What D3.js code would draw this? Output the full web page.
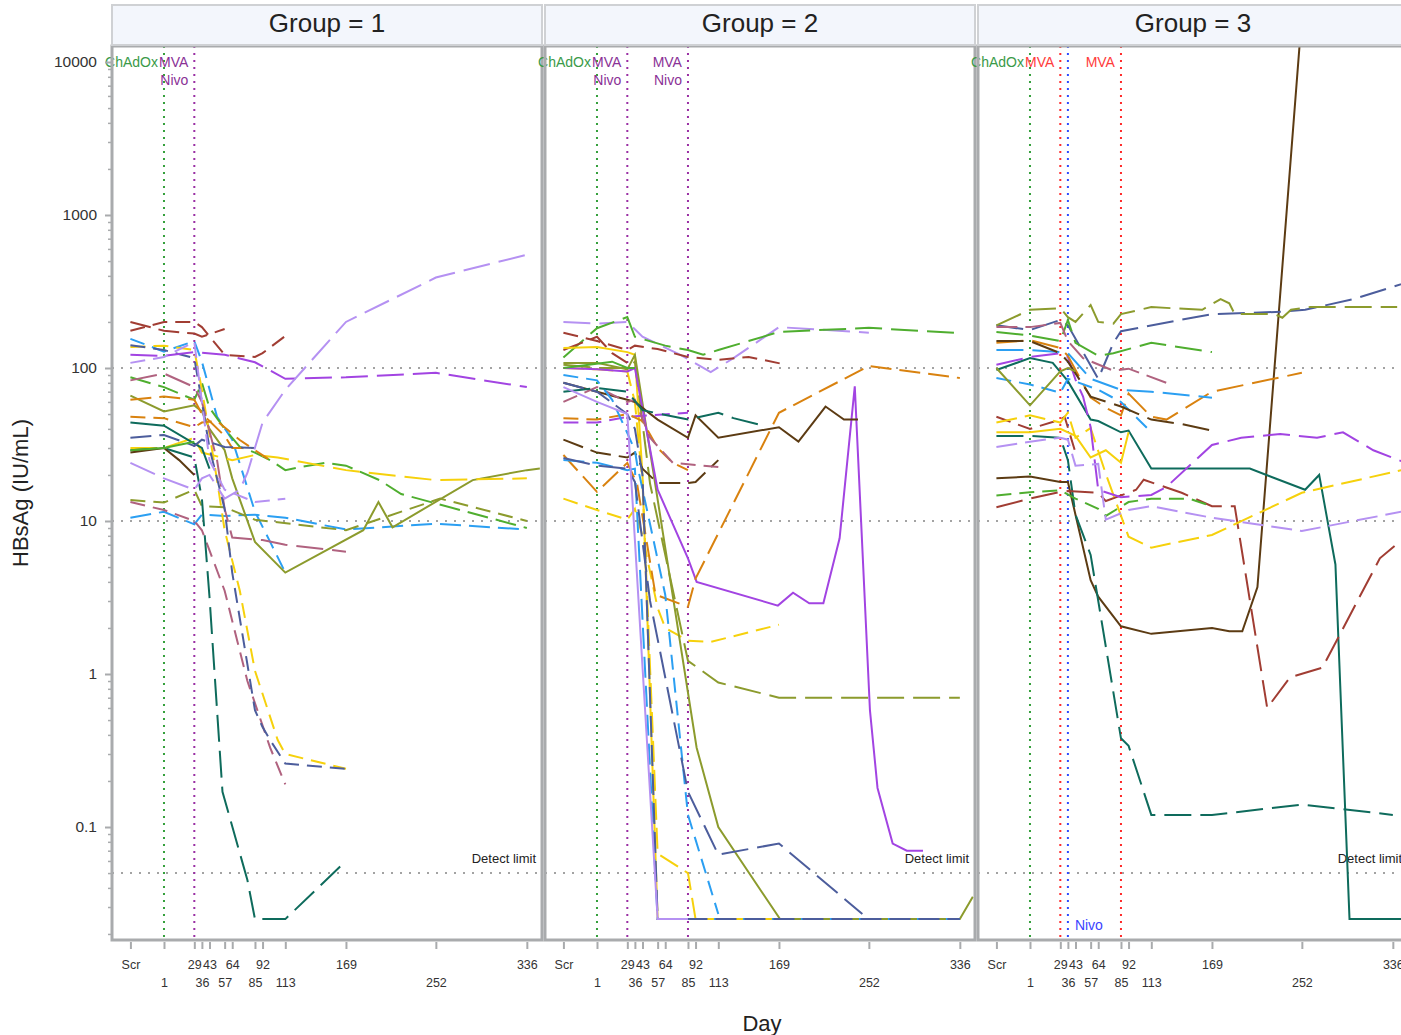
<!DOCTYPE html>
<html>
<head>
<meta charset="utf-8">
<script src="https://cdn.jsdelivr.net/npm/d3@7"></script>
<style>
  body { margin: 0; background: #fff; }
  text { font-family: "Liberation Sans", Arial, sans-serif; }
</style>
</head>
<body>
<svg id="chart"></svg>
<script>
// ---- data ----
const groups = ["Group = 1", "Group = 2", "Group = 3"];
const tickDays = [-30, 1, 29, 36, 43, 57, 64, 85, 92, 113, 169, 252, 336];
const tickLabels = ["Scr", "1", "29", "36", "43", "57", "64", "85", "92", "113", "169", "252", "336"];
const yTicks = [0.1, 1, 10, 100, 1000, 10000];
const refLevels = [100, 10, 0.05];

// [day, HBsAg IU/mL] per participant, Scr plotted at day -30
const group1 = [
  { id: "101", pts: [[-30,200],[1,175],[29,168],[36,160],[57,180]] },
  { id: "102", pts: [[-30,175],[1,200],[29,200],[36,185],[50,140],[57,122],[85,118],[92,125],[113,162]] },
  { id: "103", pts: [[-30,155],[1,128],[29,150],[36,110],[50,48],[64,34],[85,11.5],[99,7.3],[113,4.6]] },
  { id: "104", pts: [[-30,10.5],[1,11.5],[29,9.5],[36,11],[57,10.8],[85,11],[113,10.5],[169,8.8],[252,9.6],[336,8.8]] },
  { id: "105", pts: [[-30,66],[1,52],[29,57],[36,52],[43,40],[57,29],[64,19],[85,7.3],[113,4.6],[185,8.7],[199,13.3],[212,9.1],[286,18.5],[336,21.5],[348,22]] },
  { id: "106", pts: [[-30,13.7],[1,13.2],[29,16],[36,12.5],[57,12.3],[85,10.2],[169,8.7],[256,14],[336,10]] },
  { id: "107", pts: [[-30,87],[1,75],[29,62],[36,80],[43,55],[57,40],[71,30.5],[85,28],[99,25],[113,21.5],[127,22.5],[150,24],[169,23],[200,18.5],[220,15],[336,9]] },
  { id: "108", pts: [[-30,137],[1,140],[29,131],[36,72],[43,37],[50,18.5],[57,8.7],[71,3.5],[85,1.05],[106,0.37],[113,0.3],[169,0.24]] },
  { id: "109", pts: [[-30,30],[1,30],[29,35],[36,28],[64,25],[85,27],[106,26],[169,21.5],[252,18.5],[336,19]] },
  { id: "110", pts: [[-30,13.3],[1,11.8],[29,10],[36,8.7],[57,3.5],[78,0.9],[99,0.33],[113,0.19]] },
  { id: "111", pts: [[-30,83],[1,92],[29,75],[36,60],[50,25],[57,12],[64,7.8],[92,7.5],[113,7],[169,6.3]] },
  { id: "112", pts: [[-30,62],[1,65],[29,62],[36,50],[43,45],[57,36],[64,30],[85,30]] },
  { id: "113", pts: [[-30,48],[1,47],[29,41],[36,44],[50,45],[71,33.8],[85,29],[99,25]] },
  { id: "114", pts: [[-30,29],[1,30],[29,26],[36,14],[43,3.2],[55,0.17],[78,0.045],[85,0.025],[113,0.025],[169,0.06]] },
  { id: "115", pts: [[-30,44],[1,42],[29,32],[36,30],[43,22]] },
  { id: "116", pts: [[-30,35],[1,36.5],[29,31],[36,34],[57,30.5],[85,30]] },
  { id: "117", pts: [[-30,141],[1,131],[29,116],[36,60],[43,30],[57,12],[64,4.6],[85,0.58],[92,0.45],[99,0.37],[113,0.26],[169,0.24]] },
  { id: "118", pts: [[-30,122],[1,120],[29,127],[57,122],[85,109],[113,85],[169,87],[252,93],[336,75]] },
  { id: "119", pts: [[-30,24],[1,19],[29,16],[36,19],[43,20],[57,14],[71,16],[78,20.6],[92,44],[113,72],[169,200],[252,390],[336,550]] },
  { id: "120", pts: [[-30,108],[1,118],[29,148],[36,60],[43,25],[57,16],[85,13.3],[113,14]] },
  { id: "121", pts: [[-30,28],[1,30],[15,25],[29,20]] },
  { id: "122", pts: [[-30,29],[1,30],[29,33]] }
];

const group2 = [
  { id: "201", pts: [[-30,200],[1,195],[29,200],[43,160],[78,122],[106,94],[127,116],[169,185],[252,170]] },
  { id: "202", pts: [[-30,117],[1,182],[29,215],[36,160],[64,140],[85,131],[99,122],[113,131],[169,172],[252,183],[336,169]] },
  { id: "203", pts: [[-30,170],[1,150],[29,131],[36,140],[57,133],[85,118],[113,113],[141,118],[176,105]] },
  { id: "204", pts: [[-30,131],[1,160],[15,125],[29,108]] },
  { id: "205", pts: [[-30,135],[1,137],[29,127],[36,122],[43,20],[57,0.025],[336,0.025]] },
  { id: "206", pts: [[-30,14],[1,11.8],[29,10.2],[36,12],[43,8],[57,2.7],[64,2.0],[85,1.65],[106,1.62],[169,2.1]] },
  { id: "207", pts: [[-30,100],[1,98],[29,95],[36,60],[43,18],[57,0.067],[85,0.05],[92,0.025],[169,0.025]] },
  { id: "208", pts: [[-30,108],[1,108],[29,98],[36,122],[93,0.33],[113,0.1],[170,0.025],[336,0.025],[348,0.035]] },
  { id: "209", pts: [[-30,105],[1,100],[29,100],[36,110],[50,17.5],[85,1.22],[113,0.88],[169,0.7],[336,0.7]] },
  { id: "210", pts: [[-30,100],[1,98],[29,95],[36,100],[57,16],[85,5.7],[93,4.0],[168,2.8],[182,3.4],[197,2.9],[210,2.9],[225,7.7],[239,76],[253,0.58],[260,0.18],[274,0.078],[287,0.07],[302,0.07]] },
  { id: "211", pts: [[-30,44],[1,44],[29,48],[50,49],[85,51]] },
  { id: "212", pts: [[-30,27],[1,15.5],[29,24],[38,17.5],[55,3.3],[85,2.75],[92,4.2],[169,51],[252,103],[336,86]] },
  { id: "213", pts: [[-30,47],[1,46],[29,50],[43,45],[57,30],[71,24],[85,21.5]] },
  { id: "214", pts: [[-30,80],[1,70],[29,62],[36,60],[57,46],[85,35],[92,49],[113,35],[169,41],[187,33],[212,56],[229,46],[242,46]] },
  { id: "215", pts: [[-30,34],[1,28],[29,26],[36,28],[43,22],[57,17.7],[85,17.7],[92,18],[113,25]] },
  { id: "216", pts: [[-30,60],[1,75],[29,60],[36,62],[50,35],[71,24],[113,22.5]] },
  { id: "217", pts: [[-30,70],[1,74],[29,70],[43,53],[85,46],[113,51],[127,47],[155,42]] },
  { id: "218", pts: [[-30,90],[1,83],[15,62],[29,37.5],[36,29],[38,23.6],[64,3.3],[85,0.12],[113,0.027]] },
  { id: "219", pts: [[-30,25],[1,24],[29,21.5],[36,22],[57,0.025],[336,0.025]] },
  { id: "220", pts: [[-30,80],[1,70],[29,50],[36,40],[43,20],[57,0.025],[336,0.025]] },
  { id: "221", pts: [[-30,25.8],[1,23],[29,22],[36,18],[50,3],[85,0.17],[113,0.066],[169,0.078],[246,0.027]] },
  { id: "222", pts: [[-30,75],[1,60],[29,50],[57,0.025],[85,0.025]] },
  { id: "223", pts: [[-30,100],[15,110],[29,100],[36,100]] }
];

const group3 = [
  { id: "301", pts: [[-30,19],[1,19.5],[29,18],[36,18],[43,11],[57,4.1],[64,3.2],[85,2.05],[113,1.83],[169,2.0],[185,1.9],[197,1.9],[211,3.7],[252,20000]] },
  { id: "302", pts: [[-30,97],[1,116],[22,108],[36,82],[57,46],[64,45],[85,38],[92,39],[113,22],[204,22],[255,16],[268,20],[283,5.2],[296,0.025],[344,0.025]] },
  { id: "303", pts: [[-30,36],[1,36],[29,35],[36,25],[43,11],[57,6],[85,0.38],[92,0.34],[113,0.12],[169,0.12],[252,0.14],[336,0.12]] },
  { id: "304", pts: [[-30,12.3],[1,14],[29,15.5],[36,15.7],[64,15.3],[71,13.5],[99,16],[106,18.6],[141,15.3],[169,12.5],[190,12.5],[220,0.6],[241,0.95],[271,1.1],[324,5.7],[342,7.3]] },
  { id: "305", pts: [[-30,48],[1,40],[29,46],[33,48],[43,28]] },
  { id: "306", pts: [[-30,190],[1,177],[29,206],[36,190],[50,127],[64,85],[78,146],[85,174],[120,194],[169,225],[233,233],[255,240],[300,282],[350,365]] },
  { id: "307", pts: [[-30,190],[1,240],[29,246],[36,215],[43,200],[57,258],[64,200],[78,195],[85,225],[113,250],[160,240],[177,282],[185,265],[190,225],[227,225],[234,213],[242,240],[260,250],[340,250]] },
  { id: "308", pts: [[-30,172],[1,163],[29,150],[36,206],[43,146],[64,120],[78,125],[113,146],[169,127]] },
  { id: "309", pts: [[-30,14.7],[1,15.4],[29,15.9],[43,14],[64,12],[71,10.8],[92,13.3],[113,14],[148,14],[169,12.5]] },
  { id: "310", pts: [[-30,44],[1,49],[29,44],[36,51],[43,35],[57,40.5],[71,20.3],[92,7.9],[113,6.7],[169,8.1],[252,15.3],[344,21.5]] },
  { id: "311", pts: [[-30,38],[1,38],[29,40],[43,36],[57,26],[71,29],[85,24],[92,38]] },
  { id: "312", pts: [[-30,105],[1,118],[29,125],[36,118],[43,84],[50,65],[57,41],[64,16],[85,14.3],[113,14.8],[127,16.7],[169,31.4],[196,35],[232,37],[266,35],[290,38],[318,29],[344,24.6]] },
  { id: "313", pts: [[-30,30.5],[1,33],[29,35],[36,34],[43,23],[64,23.6],[71,10.2],[92,11.8],[113,12.5],[169,10.5],[252,8.6],[344,11.5]] },
  { id: "314", pts: [[-30,146],[1,152],[29,135],[36,120],[57,64],[71,55],[85,49],[92,68],[113,48],[127,46],[169,70],[252,93]] },
  { id: "315", pts: [[-30,131],[1,131],[29,127],[36,125],[57,85],[85,72],[113,70],[169,64]] },
  { id: "316", pts: [[-30,86],[1,78],[29,69],[36,85],[64,72],[85,60],[113,38]] },
  { id: "317", pts: [[-30,185],[1,185],[29,197],[36,150],[50,116],[78,96],[92,99],[127,80]] },
  { id: "318", pts: [[-30,150],[1,150],[29,125],[36,110],[57,65],[85,56],[113,46],[141,43],[169,39]] },
  { id: "319", pts: [[-30,100],[1,57],[29,95],[36,100],[43,95]] }
];

// dose markers: [day, colour key]
const doseLines = [
  [[1, "green"], [29, "purple"]],
  [[1, "green"], [29, "purple"], [85, "purple"]],
  [[1, "green"], [29, "red"], [36, "blue"], [85, "red"]]
];
// [day, text, colour key, row]
const doseLabels = [
  [[1, "ChAdOx", "green", "top"], [29, "MVA", "purple", "top"], [29, "Nivo", "purple", "second"]],
  [[1, "ChAdOx", "green", "top"], [29, "MVA", "purple", "top"], [29, "Nivo", "purple", "second"],
   [85, "MVA", "purple", "top"], [85, "Nivo", "purple", "second"]],
  [[1, "ChAdOx", "green", "top"], [29, "MVA", "red", "top"], [85, "MVA", "red", "top"], [36, "Nivo", "blue", "bottom"]]
];

// ---- styles ----
const palette = {
  darkred: "#a13d33", blue: "#2b9ff2", slate: "#4c5d9c", yellow: "#f6d10c",
  purple: "#a244e2", lavender: "#b591f2", mauve: "#b0627f", green: "#4fae2f",
  olive: "#8c9b2d", orange: "#d9820f", teal: "#0e6b5c", brown: "#5c3b13"
};
const dashes = { solid: null, a: "15,8", b: "21,8", c: "11,7", d: "27,9" };
const subjectStyle = {
  "101": ["darkred","b"], "102": ["darkred","a"], "103": ["blue","a"], "104": ["blue","b"],
  "105": ["olive","solid"], "106": ["olive","a"], "107": ["green","b"], "108": ["yellow","a"],
  "109": ["yellow","d"], "110": ["mauve","a"], "111": ["mauve","d"], "112": ["orange","b"],
  "113": ["orange","a"], "114": ["teal","d"], "115": ["teal","solid"], "116": ["slate","b"],
  "117": ["slate","a"], "118": ["purple","d"], "119": ["lavender","d"], "120": ["lavender","a"],
  "121": ["brown","solid"], "122": ["green","solid"],
  "201": ["lavender","d"], "202": ["green","d"], "203": ["darkred","a"], "204": ["darkred","b"],
  "205": ["yellow","solid"], "206": ["yellow","a"], "207": ["yellow","b"], "208": ["olive","solid"],
  "209": ["olive","d"], "210": ["purple","solid"], "211": ["purple","a"], "212": ["orange","b"],
  "213": ["orange","a"], "214": ["brown","solid"], "215": ["brown","b"], "216": ["mauve","a"],
  "217": ["teal","d"], "218": ["blue","a"], "219": ["blue","b"], "220": ["slate","b"],
  "221": ["slate","d"], "222": ["lavender","solid"], "223": ["green","solid"],
  "301": ["brown","solid"], "302": ["teal","solid"], "303": ["teal","d"], "304": ["darkred","d"],
  "305": ["darkred","a"], "306": ["slate","d"], "307": ["olive","d"], "308": ["green","d"],
  "309": ["green","a"], "310": ["yellow","b"], "311": ["yellow","solid"], "312": ["purple","d"],
  "313": ["lavender","b"], "314": ["orange","d"], "315": ["blue","d"], "316": ["blue","a"],
  "317": ["mauve","b"], "318": ["brown","d"], "319": ["olive","solid"]
};
const markColor = { green: "#35a03c", purple: "#9a2fa4", red: "#ff2a2a", blue: "#2f4cff" };
const labelColor = { green: "#3a9a48", purple: "#8a3196", red: "#ff3b3b", blue: "#3b43ff" };

// ---- layout ----
const W = 1401, H = 1035;
const panelLeft = [112, 545, 978];
const panelW = 430;
const plotTop = 46, plotBottom = 940;
const panelData = [group1, group2, group3];

const svg = d3.select("#chart").attr("width", W).attr("height", H);

const y = d3.scaleLog().domain([0.01826, 12720]).range([plotBottom, plotTop]);

function init() {
  groups.forEach((g, i) => drawPanel(i));
  drawYAxis();

  svg.append("text")
    .attr("transform", `translate(28, 493) rotate(-90)`)
    .attr("text-anchor", "middle")
    .style("font-size", "22px").style("fill", "#222")
    .text("HBsAg (IU/mL)");

  svg.append("text")
    .attr("x", 762).attr("y", 1031)
    .attr("text-anchor", "middle")
    .style("font-size", "22px").style("fill", "#222")
    .text("Day");
}

function drawPanel(i) {
  const left = panelLeft[i], right = left + panelW;
  const x = d3.scaleLinear().domain([-47, 350]).range([left, right]);
  const g = svg.append("g").attr("id", "gPanel" + (i + 1));

  g.append("clipPath").attr("id", "clip" + i)
    .append("rect").attr("x", left).attr("y", plotTop).attr("width", panelW).attr("height", plotBottom - plotTop);

  // reference levels
  g.selectAll("line.refLevel")
    .data(refLevels)
    .enter()
    .append("line")
    .attr("class", "refLevel")
    .attr("x1", left).attr("x2", right)
    .attr("y1", (d) => y(d)).attr("y2", (d) => y(d))
    .style("stroke", "#a3a3a3").style("stroke-width", 2)
    .style("stroke-dasharray", "2,7");

  g.append("text")
    .attr("x", right - 6).attr("y", y(0.05) - 10)
    .attr("text-anchor", "end")
    .style("font-size", "13px").style("fill", "#222")
    .text("Detect limit");

  // dose lines
  g.selectAll("line.dose")
    .data(doseLines[i])
    .enter()
    .append("line")
    .attr("class", "dose")
    .attr("x1", (d) => x(d[0])).attr("x2", (d) => x(d[0]))
    .attr("y1", plotTop).attr("y2", plotBottom)
    .style("stroke", (d) => markColor[d[1]]).style("stroke-width", 2)
    .style("stroke-dasharray", "2,5");

  // subject lines
  const line = d3.line().x((d) => x(d[0])).y((d) => y(d[1]));
  g.append("g")
    .attr("clip-path", `url(#clip${i})`)
    .selectAll("path.subject")
    .data(panelData[i], (d) => d.id)
    .enter()
    .append("path")
    .attr("class", "subject")
    .attr("d", (d) => line(d.pts))
    .style("fill", "none")
    .style("stroke", (d) => palette[subjectStyle[d.id][0]])
    .style("stroke-width", 2)
    .style("stroke-dasharray", (d) => dashes[subjectStyle[d.id][1]]);

  // dose labels
  const rowY = { top: 67, second: 85, bottom: 930 };
  g.selectAll("text.doseLabel")
    .data(doseLabels[i])
    .enter()
    .append("text")
    .attr("class", "doseLabel")
    .attr("x", (d) => d[3] === "bottom" ? x(d[0]) + 7 : x(d[0]) - 6)
    .attr("y", (d) => rowY[d[3]])
    .attr("text-anchor", (d) => d[3] === "bottom" ? "start" : "end")
    .style("font-size", "14px")
    .style("fill", (d) => labelColor[d[2]])
    .text((d) => d[1]);

  // panel frame
  g.append("rect")
    .attr("x", left).attr("y", plotTop).attr("width", panelW).attr("height", plotBottom - plotTop)
    .style("fill", "none").style("stroke", "#a9abad").style("stroke-width", 3);

  // strip
  g.append("rect")
    .attr("x", left).attr("y", 5).attr("width", panelW).attr("height", plotTop - 6)
    .style("fill", "#f3f6fc").style("stroke", "#cfd1d4").style("stroke-width", 2);
  g.append("text")
    .attr("x", left + panelW / 2).attr("y", 32)
    .attr("text-anchor", "middle")
    .style("font-size", "26px").style("fill", "#222")
    .text(groups[i]);

  // x axis
  const ax = g.append("g")
    .attr("id", "gXAxis" + (i + 1))
    .attr("transform", `translate(0, ${plotBottom + 2})`)
    .call(d3.axisBottom(x).tickValues(tickDays).tickSize(7)
      .tickFormat((d, k) => tickLabels[k]));
  ax.select(".domain").remove();
  ax.selectAll(".tick line").style("stroke", "#a9abad").style("stroke-width", 2);
  ax.selectAll(".tick text")
    .attr("y", (d, k) => k % 2 === 0 ? 27 : 45)
    .attr("dy", 0)
    .style("font-size", "12.5px").style("fill", "#333")
    .style("font-family", "'Liberation Sans', Arial, sans-serif");
}

function drawYAxis() {
  const left = panelLeft[0] - 1;
  const minor = [];
  [0.01, 0.1, 1, 10, 100, 1000].forEach((b) => {
    for (let m = 2; m <= 9; m++) {
      const v = b * m;
      if (v >= 0.01826 && v <= 12720) minor.push(v);
    }
  });
  const gm = svg.append("g")
    .attr("transform", `translate(${left}, 0)`)
    .call(d3.axisLeft(y).tickValues(minor).tickSize(3).tickFormat(""));
  gm.select(".domain").remove();
  gm.selectAll(".tick line").style("stroke", "#a9abad").style("stroke-width", 1.5);

  const gy = svg.append("g")
    .attr("id", "gYAxis")
    .attr("transform", `translate(${left}, 0)`)
    .call(d3.axisLeft(y).tickValues(yTicks).tickSize(6).tickPadding(8)
      .tickFormat((d) => d3.format("~g")(d)));
  gy.select(".domain").remove();
  gy.selectAll(".tick line").style("stroke", "#a9abad").style("stroke-width", 2);
  gy.selectAll(".tick text")
    .style("font-size", "15.5px").style("fill", "#333")
    .style("font-family", "'Liberation Sans', Arial, sans-serif");
}

init();
</script>
</body>
</html>
